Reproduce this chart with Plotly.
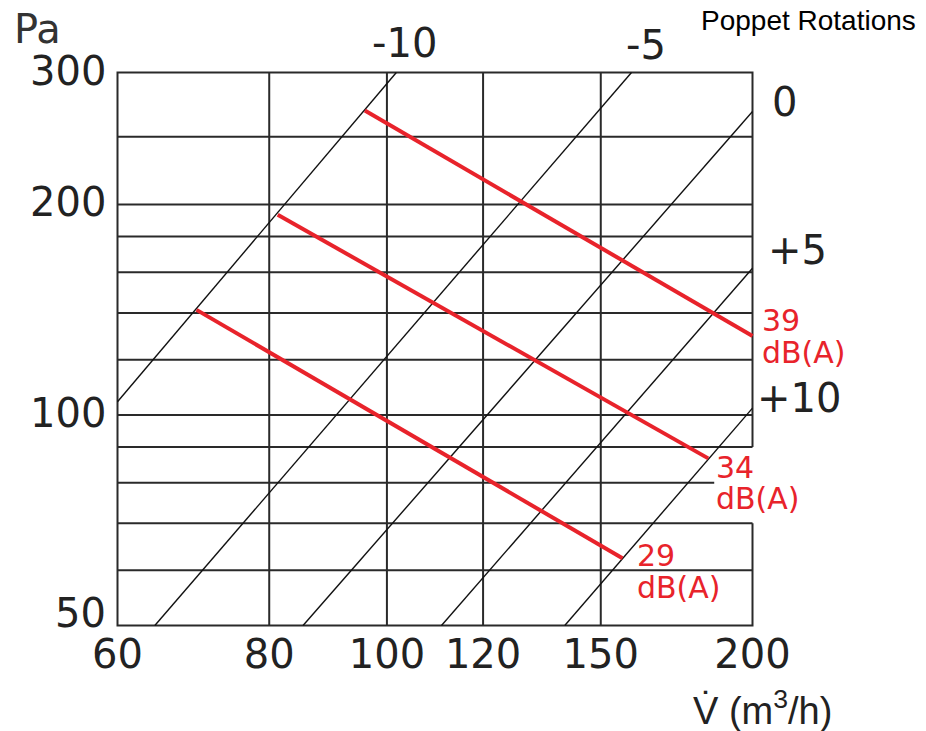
import numpy as np
import plotly.graph_objects as go

# ---------------- data ----------------
X_MIN, X_MAX = 60, 200          # volume flow (m3/h), log axis
Y_MIN, Y_TOP = 50, 309          # pressure (Pa), log axis frame
X_TICKS = [60, 80, 100, 120, 150, 200]
X_TICK_LABELS = ["60", "80", "100", "120", "150", "200"]
Y_TICKS = [50, 100, 200, 300]
Y_TICK_LABELS = ["50", "100", "200", "300"]

V_GRID = [80, 100, 120, 150]
P_GRID = [60, 70, 90, 100, 120, 140, 160, 180, 200, 250]
P_GRID_SHORT = [80]
P_GRID_SHORT_END = 186
FRAME_GAP = [70, 90]            # right frame left open between these pressures

# poppet rotation (system) curves
ROT_LABELS = ["-10", "-5", "0", "+5", "+10"]
ROT_V_START = [60, 64.4, 85.3, 110.9, 140.1]
ROT_P_START = [104.5, 50, 50, 50, 50]
ROT_V_END = [101.8, 159.0, 200, 200, 200]
ROT_P_END = [309, 309, 271.7, 162.2, 102.3]

# sound power lines
DB_LABELS = ["39", "34", "29"]
DB_UNIT = "dB(A)"
DB_V_START = [95.9, 81.3, 69.7]
DB_P_START = [272.6, 193.4, 141.4]
DB_V_END = [200, 183.9, 156.3]
DB_P_END = [129.7, 86.7, 62.4]

# ---------------- style ----------------
W, H = 918, 723                 # page adds an 8px body margin
L, R, T, B = 108, 172, 63, 104
INSET = 1.5
GRID_C = "#2a2a2a"
RED = "#e8232b"
TXT = "#222222"
FONT = "DejaVu Sans"

# label offsets (px)
Y_LABEL_SHIFT = [13, 2, 3, 10]
ROT_SHIFT = [(8, 30), (14, 28), (32, 10), (45, 18), (46, 10)]
DB_NUM_SHIFT = [(7, 16), (6, -9), (13, 3)]
DB_UNIT_SHIFT = [(7, -16), (6, -40), (13, -29)]

plot_w = W - L - R
plot_h = H - T - B
lx0, lx1 = np.log10(X_MIN), np.log10(X_MAX)
ly0, ly1 = np.log10(Y_MIN), np.log10(Y_TOP)
ppx = (plot_w - 2 * INSET) / (lx1 - lx0)
ppy = (plot_h - 2 * INSET) / (ly1 - ly0)
x_range = [lx0 - INSET / ppx, lx1 + INSET / ppx]
y_range = [ly0 - INSET / ppy, ly1 + INSET / ppy]

fig = go.Figure()

# grid
gx, gy = [], []
for v in V_GRID:
    gx += [v, v, None]
    gy += [Y_MIN, Y_TOP, None]
for p in P_GRID:
    gx += [X_MIN, X_MAX, None]
    gy += [p, p, None]
for p in P_GRID_SHORT:
    gx += [X_MIN, P_GRID_SHORT_END, None]
    gy += [p, p, None]
fig.add_trace(go.Scatter(x=gx, y=gy, mode="lines",
                         line=dict(color=GRID_C, width=2),
                         hoverinfo="skip", showlegend=False))

# frame
fx = [X_MAX, X_MAX, X_MIN, X_MIN, X_MAX, X_MAX]
fy = [FRAME_GAP[0], Y_MIN, Y_MIN, Y_TOP, Y_TOP, FRAME_GAP[1]]
fig.add_trace(go.Scatter(x=fx, y=fy, mode="lines",
                         line=dict(color=GRID_C, width=2),
                         hoverinfo="skip", showlegend=False))

# rotation curves
for i, lab in enumerate(ROT_LABELS):
    fig.add_trace(go.Scatter(x=[ROT_V_START[i], ROT_V_END[i]],
                             y=[ROT_P_START[i], ROT_P_END[i]],
                             mode="lines", line=dict(color="#111111", width=1.4),
                             name=lab, hoverinfo="skip", showlegend=False))
    dx, dy = ROT_SHIFT[i]
    fig.add_annotation(x=np.log10(ROT_V_END[i]), y=np.log10(ROT_P_END[i]),
                       xref="x", yref="y", text=lab, showarrow=False,
                       xanchor="center", yanchor="middle", xshift=dx, yshift=dy,
                       font=dict(family=FONT, size=40, color=TXT))

# dB lines
for i, lab in enumerate(DB_LABELS):
    fig.add_trace(go.Scatter(x=[DB_V_START[i], DB_V_END[i]],
                             y=[DB_P_START[i], DB_P_END[i]],
                             mode="lines", line=dict(color=RED, width=4),
                             name=lab + " " + DB_UNIT, hoverinfo="skip", showlegend=False))
    for txt, (dx, dy) in ((lab, DB_NUM_SHIFT[i]), (DB_UNIT, DB_UNIT_SHIFT[i])):
        fig.add_annotation(x=np.log10(DB_V_END[i]), y=np.log10(DB_P_END[i]),
                           xref="x", yref="y", text=txt, showarrow=False,
                           xanchor="left", yanchor="middle", xshift=dx, yshift=dy,
                           font=dict(family=FONT, size=30, color=RED))

# y tick labels
for val, lab, dy in zip(Y_TICKS, Y_TICK_LABELS, Y_LABEL_SHIFT):
    fig.add_annotation(x=0, xref="paper", y=np.log10(val), yref="y", text=lab,
                       showarrow=False, xanchor="right", yanchor="middle",
                       xshift=-8, yshift=dy,
                       font=dict(family=FONT, size=40, color=TXT))

# titles
fig.add_annotation(x=-0.163, y=1.0755, xref="paper", yref="paper", text="Pa",
                   showarrow=False, xanchor="left", yanchor="middle",
                   font=dict(family=FONT, size=40, color="#333333"))
fig.add_annotation(x=1.257, y=1.090, xref="paper", yref="paper", text="Poppet Rotations",
                   showarrow=False, xanchor="right", yanchor="middle",
                   font=dict(family="Liberation Sans", size=28, color="#000000"))
fig.add_annotation(x=1.0133, y=-0.1457, xref="paper", yref="paper",
                   text="V\u0307 (m<sup>3</sup>/h)",
                   showarrow=False, xanchor="center", yanchor="middle",
                   font=dict(family="Liberation Sans", size=38, color="#222222"))

fig.update_xaxes(type="log", range=x_range, showgrid=False, zeroline=False,
                 showline=False, ticks="", tickvals=X_TICKS, ticktext=X_TICK_LABELS,
                 ticklabelstandoff=0,
                 tickfont=dict(family=FONT, size=40, color=TXT))
fig.update_yaxes(type="log", range=y_range, showgrid=False, zeroline=False,
                 showline=False, showticklabels=False, ticks="")

fig.update_layout(width=W, height=H, autosize=False,
                  margin=dict(l=L, r=R, t=T, b=B, pad=0),
                  plot_bgcolor="white", paper_bgcolor="white",
                  showlegend=False)

fig.write_html("out.html")
